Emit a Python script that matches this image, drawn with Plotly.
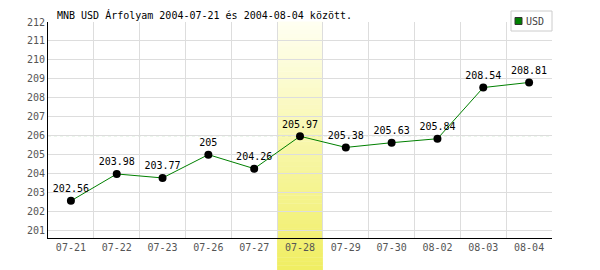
import plotly.graph_objects as go

dates = ["07-21", "07-22", "07-23", "07-26", "07-27", "07-28", "07-29", "07-30", "08-02", "08-03", "08-04"]
values = [202.56, 203.98, 203.77, 205.0, 204.26, 205.97, 205.38, 205.63, 205.84, 208.54, 208.81]
labels = ["202.56", "203.98", "203.77", "205", "204.26", "205.97", "205.38", "205.63", "205.84", "208.54", "208.81"]
y_ticks = list(range(201, 213))
highlight = "07-28"
ref_level = 206
series_name = "USD"
title = "MNB USD Árfolyam 2004-07-21 és 2004-08-04 között."

FONT = "DejaVu Sans Mono"
L, R, T, B = 48, 48, 22, 32
W, H = 600, 270
plot_h = H - T - B

fig = go.Figure()
fig.add_trace(go.Scatter(
    x=dates, y=values, mode="lines+markers+text",
    text=labels, textposition="top center",
    textfont=dict(family=FONT, size=10, color="black"),
    line=dict(color="#008000", width=1),
    marker=dict(color="black", size=8),
    cliponaxis=False, showlegend=False, name=series_name,
))

shapes = []
# highlight band gradient (top pale -> bottom yellow), extends below plot
hi = dates.index(highlight)
n = 60
y_top = 1.0
y_bot = -(H - T - plot_h) / plot_h  # to bottom of image
c0 = (255, 255, 242)
c1 = (240, 238, 98)
for i in range(n):
    f = (i + 0.5) / n
    c = tuple(int(round(c0[k] + (c1[k] - c0[k]) * f)) for k in range(3))
    ya = y_top + (y_bot - y_top) * i / n
    yb = y_top + (y_bot - y_top) * (i + 1) / n
    shapes.append(dict(type="rect", xref="x", yref="paper",
                       x0=hi - 0.5, x1=hi + 0.5, y0=yb, y1=ya + 0.002,
                       fillcolor="rgb(%d,%d,%d)" % c, line=dict(width=0),
                       layer="below"))
# reference dashed line
shapes.append(dict(type="line", xref="paper", yref="y", x0=0, x1=1,
                   y0=ref_level, y1=ref_level,
                   line=dict(color="rgb(150,210,150)", width=1, dash="3px,3px"),
                   layer="below"))
# manual legend
lx0, lx1 = (511 - L) / (W - L - R), (552 - L) / (W - L - R)
ly0, ly1 = (H - B - 31) / plot_h, (H - B - 11) / plot_h
shapes.append(dict(type="rect", xref="paper", yref="paper",
                   x0=lx0, x1=lx1, y0=ly0, y1=ly1,
                   fillcolor="white", line=dict(color="#cccccc", width=1), layer="above"))
sx0, sx1 = (515 - L) / (W - L - R), (522 - L) / (W - L - R)
sy0, sy1 = (H - B - 24.5) / plot_h, (H - B - 17.5) / plot_h
shapes.append(dict(type="rect", xref="paper", yref="paper",
                   x0=sx0, x1=sx1, y0=sy0, y1=sy1,
                   fillcolor="#008000", line=dict(color="#333333", width=1), layer="above"))

annotations = [
    dict(text=title, xref="paper", yref="paper",
         x=(55 - L) / (W - L - R), y=(H - B - 15) / plot_h,
         xanchor="left", yanchor="middle", showarrow=False,
         font=dict(family=FONT, size=10, color="black")),
    dict(text=series_name, xref="paper", yref="paper",
         x=(524 - L) / (W - L - R), y=(H - B - 21) / plot_h,
         xanchor="left", yanchor="middle", showarrow=False,
         font=dict(family=FONT, size=10, color="#444444")),
]

fig.update_layout(
    width=W, height=H,
    margin=dict(l=L, r=R, t=T, b=B, pad=0),
    paper_bgcolor="white", plot_bgcolor="white",
    shapes=shapes, annotations=annotations,
    showlegend=False,
    xaxis=dict(type="category", categoryorder="array", categoryarray=dates,
               range=[-0.5, len(dates) - 0.5], tickson="boundaries",
               showgrid=True, gridcolor="#dddddd", gridwidth=1,
               showline=True, linecolor="black", linewidth=1,
               ticks="", tickfont=dict(family=FONT, size=10, color="#555555"),
               zeroline=False, fixedrange=True),
    yaxis=dict(range=[200.6, 212], tickvals=y_ticks,
               showgrid=True, gridcolor="#dddddd", gridwidth=1,
               showline=True, linecolor="black", linewidth=1,
               ticks="", tickfont=dict(family=FONT, size=10, color="#555555"),
               zeroline=False, fixedrange=True),
)

fig.write_html("out.html", config=dict(displayModeBar=False))
